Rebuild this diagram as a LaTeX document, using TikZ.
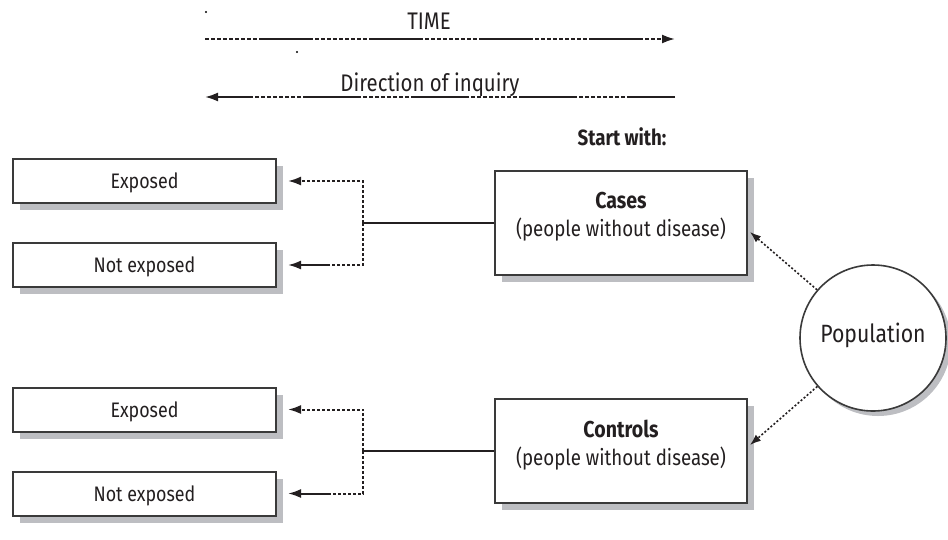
\documentclass[tikz,border=0pt]{standalone}
\usepackage{fontspec}
\setmainfont[FakeStretch=0.85]{Fira Sans}
\usetikzlibrary{arrows.meta,shadows}

\definecolor{ink}{HTML}{231F20}
\definecolor{edge}{HTML}{3A3A3A}
\definecolor{shade}{HTML}{BDBEC2}

\tikzset{
  ink/.style={text=ink},
  lbl/.style={ink, inner sep=0pt, font=\fontsize{24}{28}\selectfont},
  boxlbl/.style={ink, font=\fontsize{21}{25}\selectfont},
  outbox/.style={draw=edge, line width=2pt, fill=white, rectangle, inner sep=0pt,
    minimum width=263pt, minimum height=44pt, text height=15pt, text depth=0pt,
    boxlbl, drop shadow={shadow xshift=7pt, shadow yshift=-7pt, fill=shade, opacity=1}},
  groupbox/.style={draw=edge, line width=2pt, fill=white, rectangle, inner sep=0pt,
    minimum width=252pt, minimum height=104pt,
    drop shadow={shadow xshift=7pt, shadow yshift=-7pt, fill=shade, opacity=1}},
  popcircle/.style={draw=edge, line width=1.6pt, fill=white, circle, inner sep=0pt,
    minimum size=146pt,
    drop shadow={shadow xshift=5pt, shadow yshift=-5pt, fill=shade, opacity=1}},
  line/.style={draw=ink, line width=2pt},
  headbig/.style={-{Latex[length=13pt,width=9pt]}},
  headsmall/.style={-{Latex[length=11pt,width=8pt]}},
  finedash/.style={dash pattern=on 3pt off 2pt},
  dotline/.style={line width=1.6pt, dash pattern=on 2pt off 2pt},
  % fine dashes ending in a solid run near the arrow tip
  tailsolid/.style={dash pattern=on 3pt off 2pt on 3pt off 2pt on 3pt off 2pt
    on 3pt off 2pt on 3pt off 2pt on 3pt off 2pt on 3pt off 2pt on 3pt off 2pt
    on 3pt off 2pt on 3pt off 2pt on 3pt off 2pt on 3pt off 2pt on 3pt off 2pt
    on 3pt off 2pt on 3pt off 2pt on 60pt off 0pt},
  % alternating runs of fine dashes and solid line
  timedash/.style={dash pattern=on 4pt off 2pt on 4pt off 2pt on 4pt off 2pt
    on 4pt off 2pt on 4pt off 2pt on 4pt off 2pt on 4pt off 2pt on 4pt off 2pt
    on 4pt off 2pt on 54pt off 2pt},
  inqdash/.style={dash pattern=on 58pt off 2pt on 4pt off 2pt on 4pt off 2pt
    on 4pt off 2pt on 4pt off 2pt on 4pt off 2pt on 4pt off 2pt on 4pt off 2pt
    on 4pt off 2pt, dash phase=10pt},
}

\begin{document}
\begin{tikzpicture}[x=1pt, y=-1pt]
  \useasboundingbox (0,0) rectangle (948,539);

  % stray specks
  \fill[ink] (206,12) circle (1.1pt);
  \fill[ink] (297,52) circle (1.1pt);

  % time axis and direction of inquiry
  \node[lbl, anchor=base] (time) at (429,29) {TIME};
  \coordinate (tA) at (205,39);
  \coordinate (tB) at (675,39);
  \draw[line, timedash, headbig] (tA) -- (tB);

  \node[lbl, anchor=base] (inq) at (430,91) {Direction of inquiry};
  \coordinate (iA) at (675,97);
  \coordinate (iB) at (205,97);
  \draw[line, inqdash, headbig] (iA) -- (iB);

  \node[ink, anchor=base, inner sep=0pt, font=\fontsize{22}{26}\selectfont\bfseries]
    (start) at (622,145) {Start with:};

  % study groups
  \node[groupbox] (cases) at (621,223) {};
  \node[ink, align=center, inner sep=0pt, font=\fontsize{22}{28}\selectfont]
    (casestxt) at (621,217) {{\bfseries\fontsize{23}{28}\selectfont Cases}\\(people without disease)};

  \node[groupbox] (controls) at (621,451) {};
  \node[ink, align=center, inner sep=0pt, font=\fontsize{22}{28}\selectfont]
    (controlstxt) at (621,445) {{\bfseries\fontsize{23}{28}\selectfont Controls}\\(people without disease)};

  % source population
  \node[popcircle] (pop) at (873,338) {};
  \node[lbl, anchor=base, font=\fontsize{25}{29}\selectfont] (poptxt) at (873,342) {Population};

  \coordinate (casesIn) at (750,232);
  \coordinate (controlsIn) at (750,445);
  \draw[line, dotline, headsmall] (pop) -- (casesIn);
  \draw[line, dotline, headsmall] (pop) -- (controlsIn);

  % exposure outcomes
  \node[outbox] (e1) at (144.5,181) {Exposed};
  \node[outbox] (n1) at (144.5,265) {Not exposed};
  \node[outbox] (e2) at (144.5,409.5) {Exposed};
  \node[outbox] (n2) at (144.5,493.5) {Not exposed};

  % brackets leading back from each group
  \coordinate (j1) at (363,223);
  \coordinate (j2) at (363,451);
  \draw[line] (cases.west) -- (j1);
  \draw[line] (controls.west) -- (j2);
  \draw[line, finedash, headbig, shorten >=11pt] (j1) |- (e1.east);
  \draw[line, tailsolid, headbig, shorten >=11pt] (j1) |- (n1.east);
  \draw[line, finedash, headbig, shorten >=11pt] (j2) |- (e2.east);
  \draw[line, tailsolid, headbig, shorten >=11pt] (j2) |- (n2.east);
\end{tikzpicture}
\end{document}
